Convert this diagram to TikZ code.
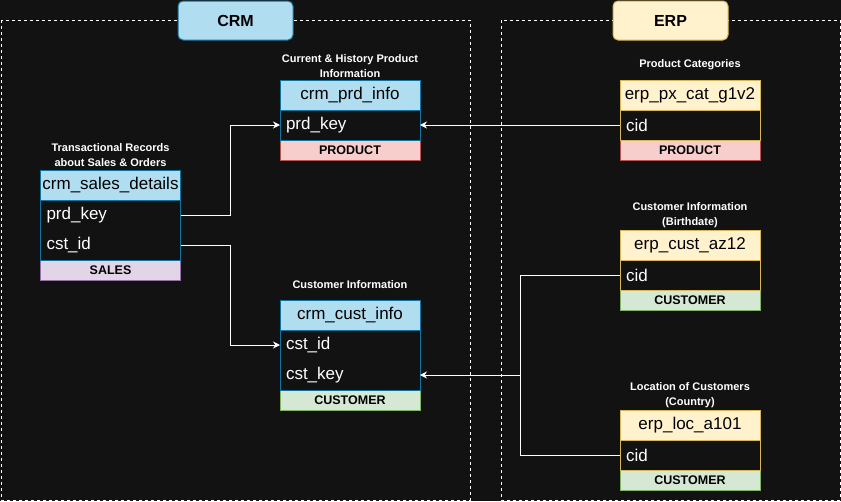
\documentclass[tikz,border=0pt]{standalone}
\usepackage{fontspec}
\setmainfont{Liberation Sans}
\usepackage{tikz}
\usetikzlibrary{positioning}
\usetikzlibrary{arrows.meta}
\definecolor{bg}{HTML}{121212}
\definecolor{crmfill}{HTML}{B1DDF0}
\definecolor{crmline}{HTML}{10739E}
\definecolor{erpfill}{HTML}{FFF2CC}
\definecolor{erpline}{HTML}{D6B656}
\definecolor{prodfill}{HTML}{F8CECC}
\definecolor{prodline}{HTML}{B85450}
\definecolor{salesfill}{HTML}{E1D5E7}
\definecolor{salesline}{HTML}{9673A6}
\definecolor{custfill}{HTML}{D5E8D4}
\definecolor{custline}{HTML}{82B366}
\tikzstyle{group} = [draw=white, line width=0.8pt, dash pattern=on 3pt off 3pt]
\tikzstyle{title} = [draw, rounded corners=5pt, line width=1pt, outer sep=0pt, minimum width=115pt, minimum height=39pt, text=black, font=\fontsize{16}{18}\selectfont\bfseries]
\tikzstyle{caption} = [text=white, align=center, font=\fontsize{11}{15}\selectfont\bfseries]
\tikzstyle{head} = [draw, line width=1pt, outer sep=0pt, inner sep=0pt, minimum width=140pt, minimum height=30pt, text=black, font=\fontsize{17}{19}\selectfont]
\tikzstyle{field} = [outer sep=0pt, inner xsep=6pt, inner ysep=0pt, text width=128pt, minimum height=30pt, align=left, text=white, font=\fontsize{17}{19}\selectfont]
\tikzstyle{band} = [draw, line width=1pt, outer sep=0pt, inner sep=0pt, minimum width=140pt, minimum height=20pt, text=black, font=\fontsize{12.5}{15}\selectfont\bfseries]
\tikzstyle{crm} = [fill=crmfill, draw=crmline]
\tikzstyle{erp} = [fill=erpfill, draw=erpline]
\tikzstyle{product} = [fill=prodfill, draw=prodline]
\tikzstyle{sales} = [fill=salesfill, draw=salesline]
\tikzstyle{customer} = [fill=custfill, draw=custline]
\tikzstyle{link} = [draw=white, line width=1pt]

\begin{document}
\begin{tikzpicture}[x=1pt,y=-1pt,node distance=0pt,>={Stealth[length=7pt,width=7pt]}]
    \fill [bg] (0,0) rectangle (841,501);
    \useasboundingbox (0,0) rectangle (841,501);

    % source systems
    \draw [group] (1,20) rectangle (470,500);
    \draw [group] (501,20) rectangle (840,500);
    \node [title, crm] (crm) at (235.5,20.5) {CRM};
    \node [title, erp] (erp) at (670.5,20.5) {ERP};

    % crm tables
    \node [head, crm] (prdhead) at (350,95) {crm\_prd\_info};
    \node [field, below=of prdhead] (prdkey) {prd\_key};
    \node [band, product, below=of prdkey] (prdband) {PRODUCT};
    \draw [crmline, line width=1pt] (prdhead.north west) rectangle (prdkey.south east);
    \node [caption, above=14pt of prdhead.north, anchor=center] (prdcap) {Current \& History Product\\Information};

    \node [head, crm] (salehead) at (110.5,185) {crm\_sales\_details};
    \node [field, below=of salehead] (saleprd) {prd\_key};
    \node [field, below=of saleprd] (salecst) {cst\_id};
    \node [band, sales, below=of salecst] (saleband) {SALES};
    \draw [crmline, line width=1pt] (salehead.north west) rectangle (salecst.south east);
    \node [caption, above=14.5pt of salehead.north, anchor=center] (salecap) {Transactional Records\\about Sales \& Orders};

    \node [head, crm] (custhead) at (350,315) {crm\_cust\_info};
    \node [field, below=of custhead] (custid) {cst\_id};
    \node [field, below=of custid] (custkey) {cst\_key};
    \node [band, customer, below=of custkey] (custband) {CUSTOMER};
    \draw [crmline, line width=1pt] (custhead.north west) rectangle (custkey.south east);
    \node [caption, above=15pt of custhead.north, anchor=center] (custcap) {Customer Information};

    % erp tables
    \node [head, erp] (cathead) at (690,95) {erp\_px\_cat\_g1v2};
    \node [field, below=of cathead] (catcid) {cid};
    \node [band, product, below=of catcid] (catband) {PRODUCT};
    \draw [erpline, line width=1pt] (cathead.north west) rectangle (catcid.south east);
    \node [caption, above=15pt of cathead.north, anchor=center] (catcap) {Product Categories};

    \node [head, erp] (azhead) at (690,245) {erp\_cust\_az12};
    \node [field, below=of azhead] (azcid) {cid};
    \node [band, customer, below=of azcid] (azband) {CUSTOMER};
    \draw [erpline, line width=1pt] (azhead.north west) rectangle (azcid.south east);
    \node [caption, above=14.5pt of azhead.north, anchor=center] (azcap) {Customer Information\\(Birthdate)};

    \node [head, erp] (lochead) at (690,425) {erp\_loc\_a101};
    \node [field, below=of lochead] (loccid) {cid};
    \node [band, customer, below=of loccid] (locband) {CUSTOMER};
    \draw [erpline, line width=1pt] (lochead.north west) rectangle (loccid.south east);
    \node [caption, above=14.5pt of lochead.north, anchor=center] (loccap) {Location of Customers\\(Country)};

    \coordinate (join) at (520,375);

    \draw [link, ->] (saleprd.east) -- ++(49.5,0) |- (prdkey.west); % connections
    \draw [link, ->] (salecst.east) -- ++(49.5,0) |- (custid.west);
    \draw [link, ->] (catcid.west) -- (prdkey.east);
    \draw [link] (azcid.west) -| (join);
    \draw [link] (loccid.west) -| (join);
    \draw [link, ->] (join) -- (custkey.east);
\end{tikzpicture}
\end{document}
